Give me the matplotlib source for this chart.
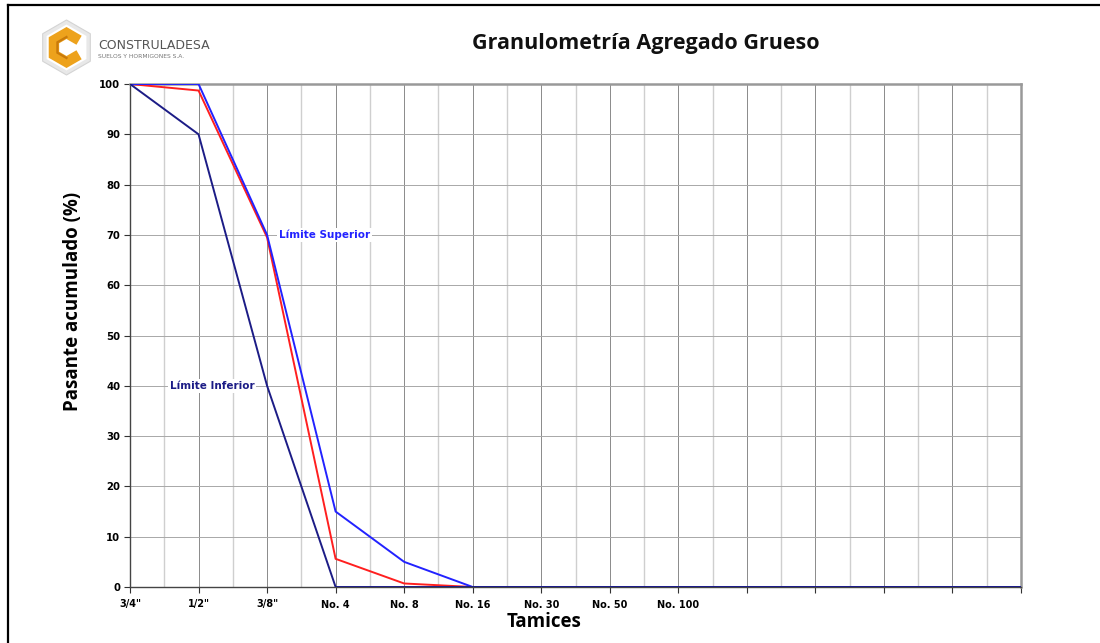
import matplotlib
matplotlib.use("Agg")
import matplotlib.pyplot as plt
import numpy as np
from matplotlib.patches import Polygon

# ---- data ----
categories = ['3/4"', '1/2"', '3/8"', 'No. 4', 'No. 8', 'No. 16', 'No. 30', 'No. 50', 'No. 100',
              '', '', '', '', '']
muestra = [100, 98.7, 69.5, 5.6, 0.7, 0, 0, 0, 0, 0, 0, 0, 0, 0]
limite_superior = [100, 100, 70, 15, 5, 0, 0, 0, 0, 0, 0, 0, 0, 0]
limite_inferior = [100, 90, 40, 0, 0, 0, 0, 0, 0, 0, 0, 0, 0, 0]
y_ticks = list(range(0, 101, 10))

W, H = 1100, 643
fig = plt.figure(figsize=(W / 100, H / 100), dpi=100)

# background overlay in pixel coordinates
bg = fig.add_axes([0, 0, 1, 1], zorder=0)
bg.set_xlim(0, W)
bg.set_ylim(H, 0)
bg.axis('off')
# outer frame
bg.plot([8, W], [5, 5], color='black', lw=1.6)
bg.plot([8, 8], [5, H], color='black', lw=1.6)

# logo
cx, cy = 66.5, 47.5
def hexagon(r, cx=cx, cy=cy):
    ang = np.deg2rad(np.arange(6) * 60 + 90)
    return np.column_stack([cx + r * np.cos(ang), cy - r * np.sin(ang)])
bg.add_patch(Polygon(hexagon(27.5), closed=True, fc='#e8e8e8', ec='#d4d4d4', lw=0.8))
bg.add_patch(Polygon(hexagon(23), closed=True, fc='white', ec='none'))
# orange C (hexagon path missing right side)
ang = np.deg2rad(np.array([30, 90, 150, 210, 270, 330]))
r = 14.5
pts = np.column_stack([cx + r * np.cos(ang), cy - r * np.sin(ang)])
bg.plot(pts[:, 0], pts[:, 1], color='#eda21c', lw=7.5, solid_joinstyle='miter', solid_capstyle='butt')
r2 = 10.5
pts2 = np.column_stack([cx + r2 * np.cos(ang), cy - r2 * np.sin(ang)])
bg.plot(pts2[1:5, 0], pts2[1:5, 1], color='#c97a0a', lw=1.6, solid_joinstyle='miter')
bg.text(98, 45.5, 'CONSTRULADESA', fontsize=9, color='#555555', family='DejaVu Sans',
        va='center', ha='left')
bg.text(98, 56.5, 'SUELOS Y HORMIGONES S.A.', fontsize=4.3, color='#777777',
        family='DejaVu Sans', va='center', ha='left')

# title
bg.text(646, 43, 'Granulometría Agregado Grueso', fontsize=15.5, fontweight='bold',
        family='Open Sans', ha='center', va='center', color='#111111')

# main axes
ax = fig.add_axes([130 / W, 1 - 587 / H, (1021 - 130) / W, (587 - 84) / H], zorder=2)
ax.patch.set_alpha(0)
x = np.arange(len(categories))
ax.plot(x, muestra, color='#ff1f1f', lw=1.4, zorder=3)
ax.plot(x, limite_superior, color='#2222ff', lw=1.4, zorder=4)
ax.plot(x, limite_inferior, color='#1c1c86', lw=1.4, zorder=5)

ax.set_xlim(0, 13)
ax.set_ylim(0, 100)
ax.set_xticks(x)
ax.set_xticklabels(categories, fontsize=7, fontweight='bold', family='DejaVu Sans')
ax.set_xticks(np.arange(0.5, 13, 1), minor=True)
ax.set_yticks(y_ticks)
ax.set_yticklabels([str(v) for v in y_ticks], fontsize=7.3, fontweight='bold', family='DejaVu Sans')
ax.tick_params(axis='x', which='major', length=4, width=0.8, color='#333333', pad=5)
ax.tick_params(axis='x', which='minor', length=0)
ax.tick_params(axis='y', which='major', length=4, width=0.8, color='#333333', pad=3)

ax.grid(True, which='major', axis='x', color='#8a8a8a', lw=0.7)
ax.grid(True, which='minor', axis='x', color='#cfcfcf', lw=1.0)
ax.grid(True, which='major', axis='y', color='#a8a8a8', lw=0.7)
ax.set_axisbelow(True)

for s in ['left', 'bottom']:
    ax.spines[s].set_color('#444444')
    ax.spines[s].set_linewidth(1.0)
for s in ['top', 'right']:
    ax.spines[s].set_color('#999999')
    ax.spines[s].set_linewidth(1.8)

ax.set_ylabel('Pasante acumulado (%)', fontsize=13.5, fontweight='bold', family='Open Sans')
ax.set_xlabel('Tamices', fontsize=13.5, fontweight='bold', family='Open Sans')
ax.yaxis.set_label_coords(-0.053, 0.568)
ax.xaxis.set_label_coords(0.465, -0.05)

ax.text(2.17, 70, 'Límite Superior', fontsize=7.5, fontweight='bold', color='#2222ff',
        family='DejaVu Sans', va='center', ha='left', zorder=6,
        bbox=dict(fc='white', ec='none', pad=1.5))
ax.text(0.58, 40, 'Límite Inferior', fontsize=7.5, fontweight='bold', color='#1c1c86',
        family='DejaVu Sans', va='center', ha='left', zorder=6,
        bbox=dict(fc='white', ec='none', pad=1.5))

fig.savefig('out.png', dpi=100)
